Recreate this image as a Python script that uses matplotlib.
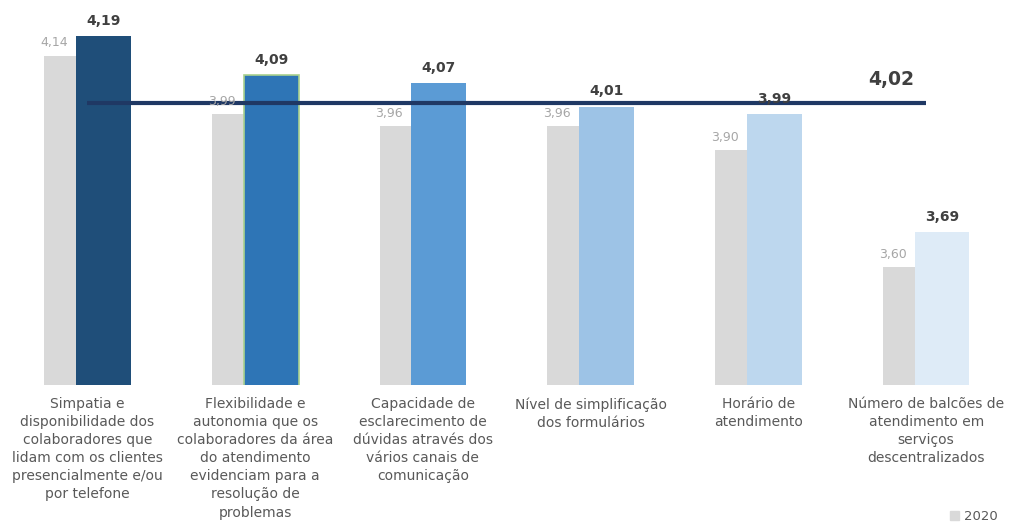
import matplotlib.pyplot as plt
import numpy as np
from matplotlib.patches import Patch

plt.rcParams.update({
    "font.family": "DejaVu Sans",
    "font.size": 10,
})

categories = [
    "Simpatia e\ndisponibilidade dos\ncolaboradores que\nlidam com os clientes\npresencialmente e/ou\npor telefone",
    "Flexibilidade e\nautonomia que os\ncolaboradores da área\ndo atendimento\nevidenciam para a\nresolução de\nproblemas",
    "Capacidade de\nesclarecimento de\ndúvidas através dos\nvários canais de\ncomunicação",
    "Nível de simplificação\ndos formulários",
    "Horário de\natendimento",
    "Número de balcões de\natendimento em\nserviços\ndescentralizados",
]
vals_2020 = [4.14, 3.99, 3.96, 3.96, 3.90, 3.60]
vals_2021 = [4.19, 4.09, 4.07, 4.01, 3.99, 3.69]
mean_2021 = 4.02

colors_2021 = ["#1F4E79", "#2E75B6", "#5B9BD5", "#9DC3E6", "#BDD7EE", "#DEEBF7"]
gray = "#D9D9D9"

def fmt(v):
    return f"{v:.2f}".replace(".", ",")

fig = plt.figure(figsize=(10.1, 5.22), dpi=100)
ax = fig.add_axes([0.0035, 0.2625, 0.9965, 0.7134])

x = np.arange(len(categories))
w = 0.327
off = 0.095

ax.bar(x - off, vals_2020, width=w, color=gray, zorder=1)
bars = ax.bar(x + off, vals_2021, width=w, color=colors_2021, zorder=2)
bars[1].set_edgecolor("#A9D18E")
bars[1].set_linewidth(1.2)

# average line across the categories
ax.plot([x[0], x[-1]], [mean_2021, mean_2021], color="#1F3864", lw=3, zorder=3,
        solid_capstyle="butt")
ax.annotate(fmt(mean_2021), (4.79, mean_2021), xytext=(0, 10), textcoords="offset points",
            ha="center", va="bottom", fontsize=13.5, fontweight="bold", color="#404040")

for xi, v in zip(x, vals_2020):
    ax.annotate(fmt(v), (xi - 0.2, v), xytext=(0, 4.5), textcoords="offset points",
                ha="center", va="bottom", fontsize=9, color="#A6A6A6")
for xi, v in zip(x, vals_2021):
    ax.annotate(fmt(v), (xi + off, v), xytext=(0, 6), textcoords="offset points",
                ha="center", va="bottom", fontsize=10, fontweight="bold", color="#404040")

for xi, lab in zip(x, categories):
    ax.text(xi, 3.3 - 0.031, lab, ha="center", va="top", fontsize=10,
            color="#595959", linespacing=1.37)

ax.set_xlim(-0.5, 5.5)
ax.set_ylim(3.3, 4.25)
ax.axis("off")

fig.legend([Patch(color=gray)], ["2020"], loc="lower right", bbox_to_anchor=(1.0, -0.025),
           frameon=False, fontsize=9.5, handlelength=0.7, handleheight=0.7,
           handletextpad=0.4, labelcolor="#595959")

fig.savefig("out.png", dpi=100)
